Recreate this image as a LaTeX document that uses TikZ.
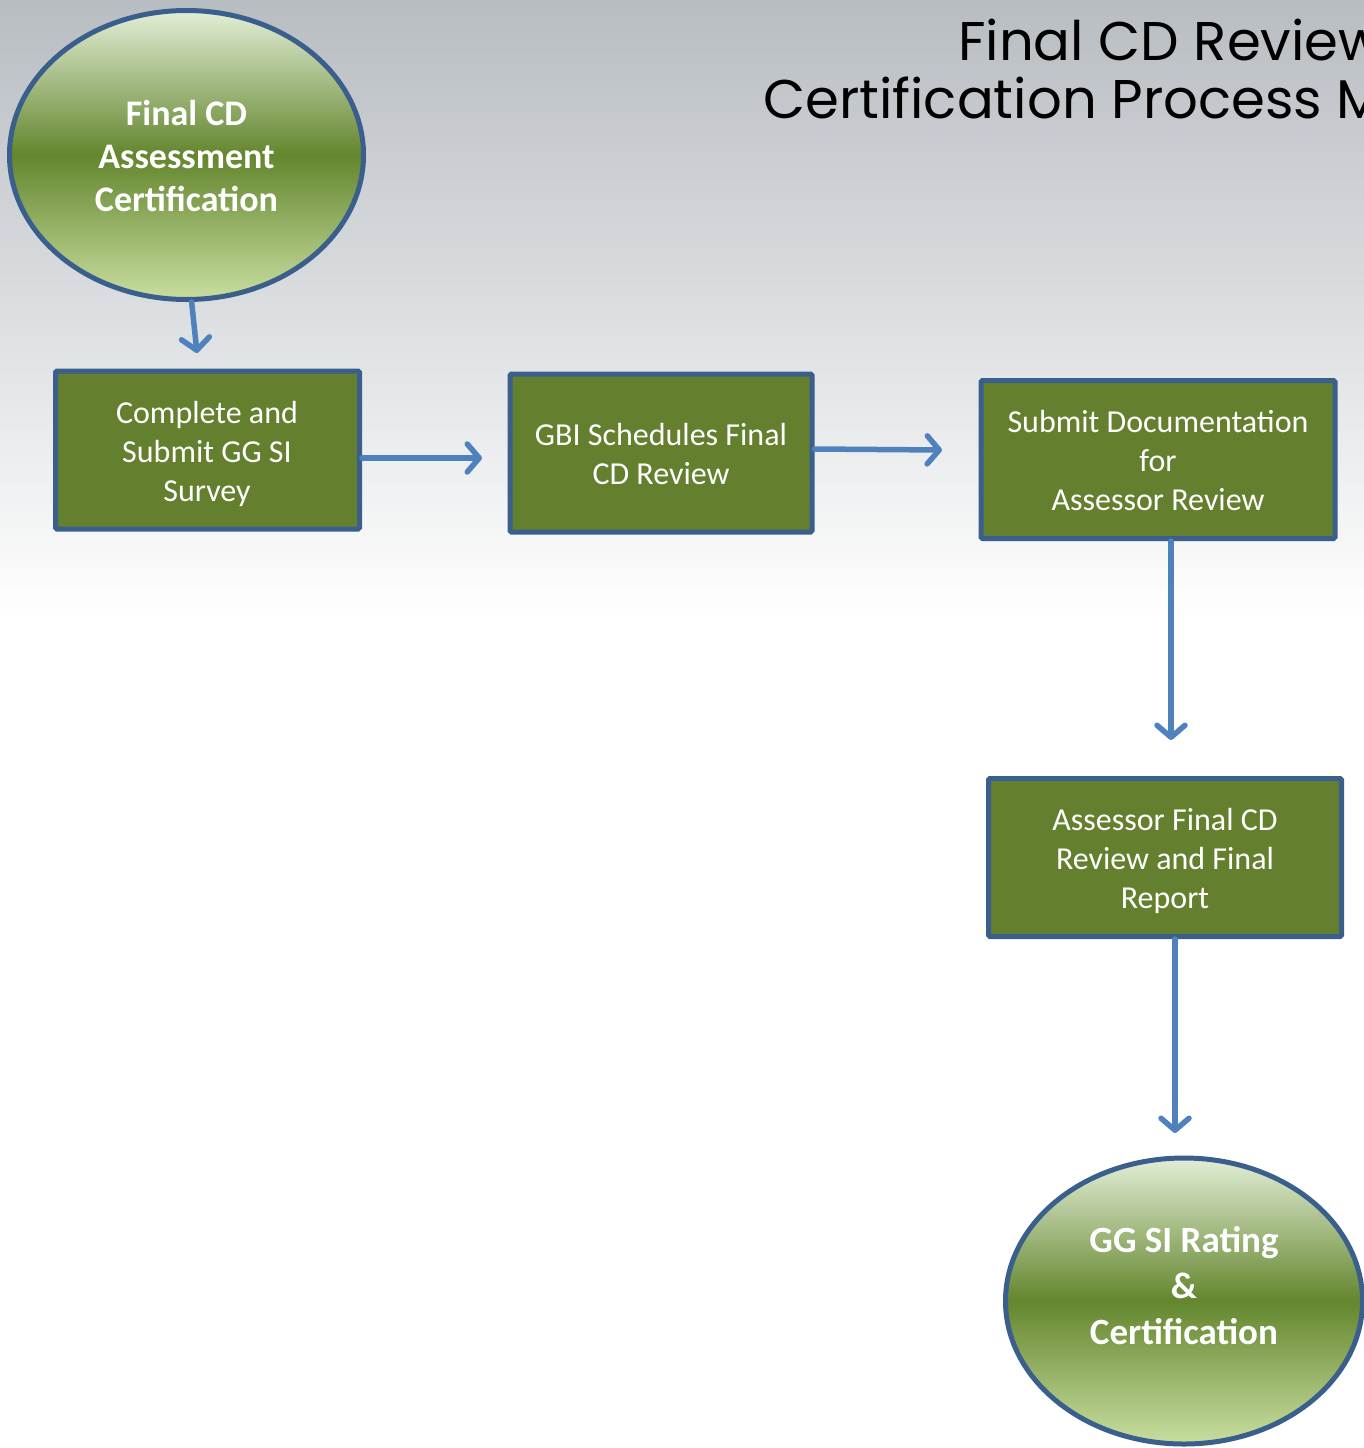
\documentclass[tikz,border=0pt]{standalone}
\usepackage{fontspec}
\setmainfont{Carlito}
\newfontfamily\titlefont{Poppins}
\usetikzlibrary{arrows.meta,shapes.geometric}
\definecolor{boxgreen}{HTML}{64802E}
\definecolor{edgeblue}{HTML}{3B5F8C}
\definecolor{arrowblue}{HTML}{4F81BD}
\definecolor{bgtop}{HTML}{B8BDC2}
\definecolor{elltop}{HTML}{E2EED6}
\definecolor{ellmid}{HTML}{64862E}
\definecolor{ellbot}{HTML}{C8DEA0}
\tikzset{
  stepbox/.style={draw=edgeblue, line width=5pt, fill=boxgreen, rounded corners=1.5pt,
    minimum height=158pt, inner sep=0pt},
  boxtext/.style={text=white, align=center, inner sep=0pt,
    font=\fontsize{32}{39}\selectfont},
  endell/.style={ellipse, draw=edgeblue, line width=5pt, inner sep=0pt,
    top color=elltop, bottom color=ellbot, middle color=ellmid},
  elltext/.style={text=white, align=center, inner sep=0pt},
  arr/.style={draw=arrowblue, line width=5.5pt, line cap=round, line join=round,
    -{Straight Barb[length=12pt,width=28pt,line width=5.5pt,line cap=round,line join=round]}},
  titletext/.style={anchor=base west, inner sep=0pt, text=black,
    font=\titlefont\fontsize{54.5}{58}\selectfont}
}
\begin{document}
\begin{tikzpicture}[x=1pt,y=-1pt]
\useasboundingbox (0,0) rectangle (1364,1448);
\clip (0,0) rectangle (1364,1448);
\fill[white] (0,0) rectangle (1364,1448);
\fill[top color=bgtop, bottom color=white, draw=none] (0,0) rectangle (1364,620);

% title
\node[titletext] (t1) at (958,60) {Final CD Review};
\node[titletext] (t2) at (763,118) {Certification Process M};

% start ellipse
\node[endell, minimum width=354pt, minimum height=289pt] (e1) at (186.5,155) {};
\node[elltext, font=\bfseries\fontsize{36}{43}\selectfont] (e1t) at (186.5,155.5)
  {Final CD\\Assessment\\Certification};

% boxes
\node[stepbox, minimum width=304pt] (b1) at (207.5,450) {};
\node[stepbox, minimum width=302pt] (b2) at (661,453) {};
\node[stepbox, minimum width=354pt] (b3) at (1158,459.5) {};
\node[stepbox, minimum width=353pt] (b4) at (1165,857.5) {};
\node[boxtext] (b1t) at (207,454) {Complete and\\Submit GG SI\\Survey};
\node[boxtext] (b2t) at (661,454) {GBI Schedules Final\\CD Review};
\node[boxtext] (b3t) at (1158,460.5) {Submit Documentation\\for\\Assessor Review};
\node[boxtext] (b4t) at (1165,861) {Assessor Final CD\\Review and Final\\Report};

% end ellipse
\node[endell, minimum width=357pt, minimum height=286pt] (e2) at (1184,1301) {};
\node[elltext, font=\bfseries\fontsize{37}{46}\selectfont] (e2t) at (1184,1286)
  {GG SI Rating\\\&\\Certification};

% arrow end points
\coordinate (c1) at (197,353);
\coordinate (c12) at (482,458);
\coordinate (c23) at (942,450);
\coordinate (c34) at (1171,740);
\coordinate (c4e) at (1175,1133);

% connectors
\draw[arr] (e1.-88) -- (c1);
\draw[arr] ([yshift=-8pt]b1.east) -- (c12);
\draw[arr] ([yshift=4pt]b2.east) -- (c23);
\draw[arr] ([xshift=13pt]b3.south) -- (c34);
\draw[arr] ([xshift=10pt]b4.south) -- (c4e);
\end{tikzpicture}
\end{document}
